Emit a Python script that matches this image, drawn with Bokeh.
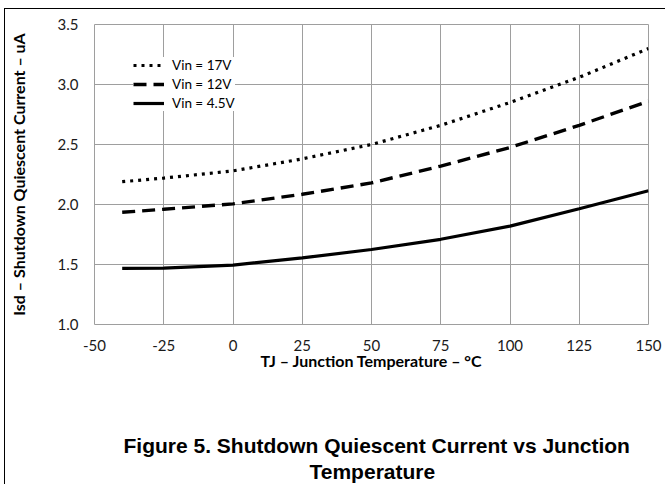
from bokeh.plotting import figure
from bokeh.models import (Range1d, FixedTicker, PrintfTickFormatter, Legend,
                          LegendItem, Title, ColumnDataSource)
from bokeh.embed import file_html
from bokeh.resources import INLINE

# ---- data ----
temp_c = [-40, -25, 0, 25, 50, 75, 100, 125, 150]
isd_17v = [2.19, 2.22, 2.28, 2.38, 2.50, 2.66, 2.85, 3.06, 3.30]
isd_12v = [1.935, 1.96, 2.005, 2.085, 2.18, 2.32, 2.475, 2.66, 2.86]
isd_4v5 = [1.467, 1.47, 1.495, 1.555, 1.625, 1.71, 1.82, 1.965, 2.115]
series_labels = ["Vin = 17V", "Vin = 12V", "Vin = 4.5V"]
x_ticks = [-50, -25, 0, 25, 50, 75, 100, 125, 150]
y_ticks = [1.0, 1.5, 2.0, 2.5, 3.0, 3.5]
caption = ["Figure 5. Shutdown Quiescent Current vs Junction", "Temperature"]

src = ColumnDataSource(dict(t=temp_c, a=isd_17v, b=isd_12v, c=isd_4v5))

p = figure(width=661, height=476, output_backend="svg", toolbar_location=None,
           x_range=Range1d(-50, 150), y_range=Range1d(1.0, 3.5),
           min_border_left=83, min_border_right=18, min_border_top=15,
           min_border_bottom=161,
           styles={"margin-left": "4px", "margin-top": "8px",
                   "border-left": "1.5px solid black",
                   "border-top": "1.5px solid black"})

grid_col = "#9e9e9e"
p.outline_line_color = grid_col
p.outline_line_width = 1
p.xgrid.grid_line_color = grid_col
p.ygrid.grid_line_color = grid_col
p.xgrid.ticker = FixedTicker(ticks=x_ticks)
p.ygrid.ticker = FixedTicker(ticks=y_ticks)

p.xaxis.ticker = FixedTicker(ticks=x_ticks)
p.yaxis.ticker = FixedTicker(ticks=y_ticks)
p.yaxis.formatter = PrintfTickFormatter(format="%.1f")
p.xaxis.formatter = PrintfTickFormatter(format="%d")

for ax in (p.xaxis[0], p.yaxis[0]):
    ax.axis_line_color = None
    ax.major_tick_line_color = None
    ax.minor_tick_line_color = None
    ax.major_tick_out = 0
    ax.major_tick_in = 0
    ax.major_label_text_font = "Lato"
    ax.major_label_text_font_size = "15px"
    ax.major_label_text_color = "#1a1a1a"
    ax.axis_label_text_font = "Lato"
    ax.axis_label_text_font_style = "bold"
    ax.axis_label_text_font_size = "16px"
    ax.axis_label_text_color = "black"

p.xaxis.axis_label = "TJ – Junction Temperature – °C"
p.yaxis.axis_label = "Isd – Shutdown Quiescent Current – uA"
p.xaxis.major_label_standoff = 15
p.xaxis.axis_label_standoff = -3
p.yaxis.major_label_standoff = 16
p.yaxis.axis_label_standoff = 27

r17 = p.line("t", "a", source=src, line_color="black", line_width=3.2,
             line_dash="3 5")
r12 = p.line("t", "b", source=src, line_color="black", line_width=3.4,
             line_dash="13 7")
r45 = p.line("t", "c", source=src, line_color="black", line_width=3.2)

legend = Legend(items=[LegendItem(label=series_labels[0], renderers=[r17]),
                       LegendItem(label=series_labels[1], renderers=[r12]),
                       LegendItem(label=series_labels[2], renderers=[r45])],
                location=(39, 213))
legend.border_line_color = None
legend.background_fill_color = "white"
legend.background_fill_alpha = 1.0
legend.padding = 6
legend.spacing = 3
legend.margin = 0
legend.glyph_width = 31
legend.glyph_height = 14
legend.label_height = 14
legend.label_standoff = 8
legend.label_text_font = "Lato"
legend.label_text_font_size = "13.5px"
legend.label_text_color = "black"
p.add_layout(legend)

# caption below the chart (a thin spacer title keeps it clear of the axis)
spacer = Title(text=" ", text_font_size="1px", standoff=56)
t1 = Title(text=caption[0], align="left", offset=29, text_color="black",
           text_font="Liberation Sans", text_font_size="21px",
           text_font_style="bold", standoff=0)
t2 = Title(text=caption[1], align="left", offset=215, text_color="black",
           text_font="Liberation Sans", text_font_size="21px",
           text_font_style="bold", standoff=2)
p.add_layout(spacer, "below")
p.add_layout(t1, "below")
p.add_layout(t2, "below")

open("out.html", "w").write(file_html(p, INLINE))
